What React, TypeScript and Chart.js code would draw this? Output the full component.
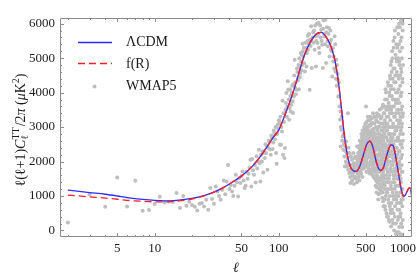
import React, { useEffect, useRef } from "react";
import { Chart, registerables } from "chart.js";
Chart.register(...registerables);

// Theory curves: multipole l and D_l = l(l+1)C_l/2pi (muK^2)
const lcdmL = [2, 3, 4, 5, 6, 8, 10, 12, 15, 20, 25, 30, 35, 40, 50, 60, 70, 80, 90, 100, 110, 120, 130, 140, 150, 160, 180, 200, 220, 240, 260, 280, 300, 320, 340, 360, 380, 400, 420, 450, 480, 510, 540, 570, 600, 630, 660, 690, 720, 760, 800, 830, 860, 890, 920, 950, 980, 1010, 1040, 1070, 1100, 1130, 1160, 1190];
const lcdmD = [1173, 1100, 1050, 1000, 955, 900, 870, 860, 875, 930, 1010, 1110, 1230, 1350, 1580, 1830, 2120, 2420, 2700, 2920, 3280, 3640, 4000, 4380, 4750, 5070, 5480, 5700, 5750, 5620, 5380, 5000, 4380, 3500, 2650, 2100, 1820, 1730, 1715, 1880, 2200, 2500, 2590, 2430, 2080, 1820, 1740, 1800, 2020, 2320, 2480, 2470, 2260, 1950, 1640, 1330, 1100, 1000, 1020, 1110, 1200, 1240, 1120, 820];
const frL = [2, 3, 4, 5, 6, 8, 10, 12, 15, 20, 25, 30, 35, 40, 50, 60, 70, 80, 90, 100, 110, 120, 130, 140, 150, 160, 180, 200, 220, 240, 260, 280, 300, 320, 340, 360, 380, 400, 420, 450, 480, 510, 540, 570, 600, 630, 660, 690, 720, 760, 800, 830, 860, 890, 920, 950, 980, 1010, 1040, 1070, 1100, 1130, 1160, 1190];
const frD = [1027, 975, 940, 905, 875, 845, 830, 828, 850, 910, 1000, 1110, 1230, 1350, 1580, 1830, 2120, 2420, 2700, 2920, 3280, 3640, 4000, 4380, 4750, 5070, 5480, 5700, 5750, 5620, 5380, 5000, 4380, 3500, 2650, 2100, 1820, 1730, 1715, 1880, 2200, 2500, 2590, 2430, 2080, 1820, 1740, 1800, 2020, 2320, 2480, 2470, 2260, 1950, 1640, 1330, 1100, 1000, 1020, 1110, 1200, 1240, 1120, 820];

// WMAP5 measurements [l, D_l]
const wmapLow = [[2,232],[3,1050],[4,685],[5,1539],[6,697],[7,1443],[8,572],[9,592],[10,766],[11,978],[12,813],[13,833],[14,824],[15,1085],[16,650],[17,998],[18,717],[19,833],[20,737],[21,688],[22,581],[23,775],[24,795],[25,697],[26,891],[27,601],[28,1231],[29,911],[30,775],[31,1277],[32,1132],[33,1000],[34,891],[35,1180],[36,1451],[37,1050],[38,1422],[39,1898],[40,1200],[41,1320],[42,1132],[43,1000],[44,1298],[45,1617],[46,1400],[47,987],[48,1521],[49,1380],[50,1580],[51,1713],[52,1450],[53,1231],[54,1298],[55,1700],[56,1500],[57,1646],[58,1820],[59,2052],[60,1277],[61,2073],[62,1750],[63,1617],[64,1900],[65,1393],[66,2150],[67,1800],[68,2000],[69,2343],[70,1950],[71,1422],[72,2200],[73,2003],[74,2300],[75,1684],[76,2247],[77,2100],[78,2500],[79,2250],[80,2459],[81,1762],[82,2400],[83,2600],[84,2584],[85,2350],[86,2198],[87,2750],[88,2682],[89,2363],[90,2550],[91,2900],[92,2827],[93,2650],[94,3000],[95,2247],[96,1936],[97,2800],[98,3068],[99,2950],[100,3200],[101,3118],[102,2488],[103,3300],[104,2488],[105,3000],[106,2874],[107,3765],[108,2198],[109,3400],[110,3150],[111,2102],[112,2392],[113,3500],[114,3698],[115,3988],[116,3300],[117,3600],[118,4326],[119,4085]];
const wmapPeak = [[120,3800],[121,3214],[122,3553],[123,4100],[124,3900],[125,3450],[126,3650],[127,4000],[128,4200],[129,3750],[130,3408],[131,4250],[132,3890],[133,4500],[134,4955],[135,4150],[136,4300],[137,3950],[139,4085],[140,4700],[141,4600],[142,4350],[143,4424],[144,4800],[145,4100],[146,5000],[147,4761],[148,4450],[149,4569],[150,5150],[151,4900],[152,4650],[153,5100],[154,4800],[155,5420],[156,5200],[157,5051],[159,5300],[160,4850],[162,4616],[163,5450],[165,5300],[167,4761],[168,5150],[170,5500],[171,5650],[172,5246],[174,5400],[175,5700],[177,4085],[178,5536],[180,5350],[182,5922],[183,5500],[184,4714],[186,5600],[188,6165],[189,5750],[190,5450],[192,5800],[194,5246],[196,5950],[197,5632],[199,4761],[200,5500],[202,6000],[204,5650],[205,5440],[207,5700],[209,6021],[210,5300],[212,5150],[215,5950],[217,5600],[219,5826],[221,5500],[223,5391],[226,4714],[227,5850],[229,6100],[231,5700],[233,5632],[235,5400],[237,6117],[240,4859],[241,5750],[243,5900],[246,5500],[248,5342],[251,5700],[253,5876],[256,5051],[258,5450],[260,5800],[262,5250],[264,5536],[267,5200],[269,4471],[272,5295],[274,4900],[276,5050],[279,4700],[281,5632],[284,5400],[286,4616],[288,4400],[290,4955],[292,4200],[294,4800],[297,4550],[299,4375],[301,3890],[304,4300],[306,3900],[308,3600],[311,3214],[313,3450],[314,2439],[316,3000],[318,2923],[321,3300],[324,2600],[327,2729],[330,2343],[332,2800],[334,2500],[337,2148],[340,1858],[342,2450],[344,2300],[346,2000],[348,2584],[351,1957],[353,2250],[355,1858],[358,2100],[360,3400],[362,1762],[364,2400],[366,1950],[369,1666],[371,2250],[373,1900],[375,1550],[377,1376],[380,2150],[382,1800],[384,1700],[387,2052],[389,1450],[391,1600],[394,1900],[396,1666],[398,2250],[400,1950],[402,1350],[404,1521],[406,2100],[408,1800],[411,1858],[413,1550],[415,2148],[417,1700],[419,1500],[421,1950],[423,1750],[425,1400],[427,2439],[429,2050],[431,1650]];
const wmapHighOdd = [[433,2000],[435,1800],[437,2439],[439,1600],[441,2150],[443,1900],[445,1450],[447,2300],[449,2050],[451,1750],[453,2600],[455,1950],[457,2200],[459,1650],[461,2450],[463,2100],[465,1850],[467,2700],[469,2250],[471,1550],[473,2350],[475,2000],[477,2800],[479,2150],[481,1800],[483,2550],[485,2300],[487,3000],[489,1900],[491,2650],[493,2400],[495,2100],[497,2850],[499,2500],
[501,2200],[503,3600],[505,2750],[507,1700],[509,2450],[511,3000],[513,2100],[515,2650],[517,1900],[519,2900],[521,2350],[523,3200],[525,2550],[527,1800],[529,2750],[531,2200],[533,3050],[535,2450],[537,1650],[539,2850],[541,2300],[543,3300],[545,2600],[547,2000],[549,2400],[551,2750],[553,1750],[555,3100],[557,2250],[559,2550],[561,1900],[563,2900],[565,2150],[567,3118],[569,2400],[571,1600],[573,2700],[575,2050],[577,2950],[579,1850],[581,2500],[583,2200],[585,3300],[587,1700],[589,2600],[591,1950],[593,2350],[595,1500],[597,2800],[599,2100],
[601,1300],[603,2450],[605,1800],[607,3200],[609,2200],[611,1100],[613,2700],[615,1600],[617,2950],[619,2050],[621,1400],[623,3310],[625,2350],[627,1750],[629,2600],[631,900],[633,2150],[635,3000],[637,1500],[639,2400],[641,1900],[643,2800],[645,1200],[647,2250],[649,3500],[651,1700],[653,2550],[655,1085],[657,2000],[659,3100],[661,1450],[663,2350],[665,1800],[667,2750],[669,1250],[671,2100],[673,3300],[675,1600],[677,2500],[679,950],[681,1950],[683,2900],[685,1350],[687,2200],[689,3650],[691,1700],[693,2600],[695,700],[697,2050],[699,3000],
[701,1500],[703,2400],[705,3400],[707,900],[709,2100],[711,2800],[713,1300],[715,3800],[717,1800],[719,2500],[721,600],[723,3100],[725,2200],[727,1600],[729,4000],[731,2700],[733,1100],[735,2000],[737,3300],[739,1400],[741,2450],[743,400],[745,2900],[747,1900],[749,3600],[751,1200],[753,2300],[755,406],[757,3000],[759,1700],[761,4200],[763,2600],[765,800],[767,2000],[769,3500],[771,1500],[773,2800],[775,250],[777,2150],[779,3900],[781,1000],[783,2500],[785,4500],[787,1800],[789,3200],[791,600],[793,2300],[795,4800],[797,1300],[799,2700],[800,116],
[802,3500],[804,1900],[806,4900],[808,800],[810,2600],[812,3900],[814,1400],[816,5200],[818,2200],[820,300],[822,3000],[824,1700],[826,4400],[828,2400],[830,1000],[832,3600],[834,2000],[836,5500],[838,500],[840,2800],[842,4100],[844,1500],[846,3300],[848,0],[850,2300],[852,4700],[854,1200],[856,3000],[858,1800],[860,5800],[862,700],[864,2600],[866,3800],[868,1300],[870,4300],[872,2100],[874,200],[876,3400],[878,1600],[880,5000],[882,900],[884,2900],[886,3700],[888,1100],[890,4600],[892,2400],[894,-50],[896,3200],[898,1500],[900,5300],
[902,600],[904,2700],[906,4000],[908,1000],[910,-75],[912,3500],[914,1900],[916,5700],[918,400],[920,2300],[922,4400],[924,1300],[926,3100],[928,6000],[930,100],[932,2000],[934,4800],[936,800],[938,3700],[940,1600],[942,5200],[944,-100],[946,2800],[948,4200],[950,1100],[952,3300],[954,5500],[956,500],[958,2100],[960,3900],[962,1400],[964,6100],[966,200],[968,2500],[970,4600],[972,900],[974,3000],[976,1700],[978,5000],[980,-150],[982,2200],[984,3600],[986,700],[988,4300],[990,1200],[992,5800],[994,300],[996,2600],[998,3400],[1000,1000]];
const wmapHighEven = [[432,1850],[434,2250],[436,1700],[438,2050],[440,1550],[442,2400],[444,2000],[446,1800],[448,2600],[450,2150],[452,1900],[454,2350],[456,1700],[458,2500],[460,2050],[462,2800],[464,2300],[466,1950],[468,2550],[470,2100],[472,2900],[474,2450],[476,1800],[478,2650],[480,2300],[482,2050],[484,2750],[486,2450],[488,2200],[490,2950],[492,1850],[494,2600],[496,2350],[498,3100],[500,2000],
[502,2500],[504,2900],[506,2050],[508,3150],[510,2300],[512,1850],[514,2800],[516,2450],[518,2150],[520,3300],[522,1950],[524,2650],[526,2300],[528,3000],[530,2450],[532,1700],[534,2700],[536,2200],[538,3200],[540,2500],[542,1900],[544,2800],[546,2350],[548,3050],[550,2100],[552,2600],[554,1650],[556,2900],[558,2350],[560,3250],[562,2000],[564,2500],[566,1800],[568,2750],[570,2200],[572,3400],[574,1900],[576,2450],[578,1550],[580,2850],[582,2100],[584,2650],[586,1950],[588,3100],[590,2300],[592,1750],[594,2700],[596,2000],[598,3300],[600,1700],
[602,2650],[604,1950],[606,3000],[608,1450],[610,2400],[612,2000],[614,3400],[616,1250],[618,2550],[620,1850],[622,2900],[624,1550],[626,2200],[628,3150],[630,1700],[632,2500],[634,1050],[636,2800],[638,2000],[640,3350],[642,1350],[644,2350],[646,1800],[648,2700],[650,1500],[652,3000],[654,2200],[656,1300],[658,2600],[660,1900],[662,3250],[664,1150],[666,2400],[668,2050],[670,2900],[672,1550],[674,3550],[676,2200],[678,1800],[680,2700],[682,1100],[684,2450],[686,3100],[688,1600],[690,2300],[692,850],[694,2800],[696,1900],[698,3400],[700,1400],
[702,2700],[704,1900],[706,3600],[708,1200],[710,2500],[712,3200],[714,700],[716,2200],[718,3000],[720,1600],[722,4100],[724,2400],[726,1000],[728,2900],[730,1800],[732,3500],[734,2300],[736,500],[738,2700],[740,1500],[742,3800],[744,2100],[746,1100],[748,3100],[750,2600],[752,1700],[754,4300],[756,2000],[758,900],[760,3300],[762,2400],[764,1400],[766,3700],[768,2800],[770,300],[772,2200],[774,4000],[776,1600],[778,3000],[780,2500],[782,700],[784,3400],[786,2000],[788,4400],[790,1200],[792,2800],[794,3600],[796,1800],[798,500],[799,4100],
[801,2300],[803,4200],[805,1200],[807,3000],[809,1700],[811,4600],[813,2500],[815,600],[817,3400],[819,1900],[821,5000],[823,2700],[825,1100],[827,3800],[829,2100],[831,200],[833,3100],[835,4700],[837,1600],[839,2500],[841,5300],[843,900],[845,3600],[847,2000],[849,4300],[851,1400],[853,2800],[855,5600],[857,400],[859,3300],[861,2200],[863,4500],[865,1000],[867,2900],[869,5100],[871,1700],[873,3700],[875,2400],[877,-100],[879,4000],[881,1900],[883,5400],[885,1300],[887,3000],[889,2100],[891,4900],[893,800],[895,3500],[897,2600],[899,5900],
[901,1800],[903,4500],[905,2200],[907,300],[909,3800],[911,1500],[913,5000],[915,2700],[917,1000],[919,4100],[921,3000],[923,-50],[925,5400],[927,1900],[929,3400],[931,2600],[933,600],[935,4900],[937,2300],[939,1300],[941,5900],[943,3200],[945,1800],[947,4500],[949,400],[951,2500],[953,3900],[955,1500],[957,6050],[959,2900],[961,800],[963,4700],[965,2100],[967,3500],[969,-120],[971,5600],[973,1900],[975,4000],[977,1200],[979,3100],[981,5300],[983,2400],[985,100],[987,4400],[989,1700],[991,3300],[993,6000],[995,900],[997,2800],[999,4800]];

const yTickValues = [0, 1000, 2000, 3000, 4000, 5000, 6000];
const xTickLabels = [5, 10, 50, 100, 500, 1000];
const legendLabels = ["\u039BCDM", "f(R)", "WMAP5"];

const X_MIN = 1.73, X_MAX = 1180, Y_MIN = -190, Y_MAX = 6165;
const SERIF = '"Liberation Serif", "Times New Roman", serif';
const BLUE = "#2b2bff";
const RED = "#ff1f1f";
const GRAY = "#bebebe";

const framePlugin = {
  id: "frameDecor",
  afterDraw(chart: any) {
    const { ctx, chartArea: a, scales } = chart;
    const xs = scales.x, ys = scales.y;
    ctx.save();
    ctx.strokeStyle = "#8a8a8a";
    ctx.lineWidth = 1;
    ctx.beginPath();
    ctx.rect(a.left + 0.5, a.top + 0.5, a.right - a.left - 1, a.bottom - a.top - 1);
    ctx.stroke();
    ctx.beginPath();
    for (let v = 0; v <= Y_MAX; v += 200) {
      const py = Math.round(ys.getPixelForValue(v)) + 0.5;
      const len = v % 1000 === 0 ? 4 : 2;
      ctx.moveTo(a.left, py); ctx.lineTo(a.left + len, py);
      ctx.moveTo(a.right, py); ctx.lineTo(a.right - len, py);
    }
    for (let k = 0; k <= 3; k++) {
      for (let m = 1; m <= 9; m++) {
        const v = m * Math.pow(10, k);
        if (v < X_MIN || v > X_MAX) continue;
        const px = Math.round(xs.getPixelForValue(v)) + 0.5;
        const len = m === 1 || m === 5 ? 4 : 2;
        ctx.moveTo(px, a.bottom); ctx.lineTo(px, a.bottom - len);
        ctx.moveTo(px, a.top); ctx.lineTo(px, a.top + len);
      }
    }
    ctx.stroke();
    ctx.fillStyle = "#1a1a1a";
    ctx.font = `13px ${SERIF}`;
    ctx.textAlign = "right";
    ctx.textBaseline = "middle";
    yTickValues.forEach((v) => {
      ctx.fillText(String(v), a.left - 5, ys.getPixelForValue(v));
    });
    ctx.textAlign = "center";
    ctx.textBaseline = "top";
    xTickLabels.forEach((v) => {
      ctx.fillText(String(v), xs.getPixelForValue(v), a.bottom + 5);
    });
    ctx.font = `italic 14px ${SERIF}`;
    ctx.textBaseline = "middle";
    ctx.fillText("\u2113", (a.left + a.right) / 2, 268);

    // y title (rotated)
    const cx = 21, cy = 130;
    ctx.translate(cx, cy);
    ctx.rotate(-Math.PI / 2);
    const base = `14px ${SERIF}`;
    const ital = `italic 14px ${SERIF}`;
    const small = `10px ${SERIF}`;
    const segs: any[] = [
      { t: "\u2113(\u2113+1)", f: base, dy: 0 },
      { t: "C", f: ital, dy: 0 },
      { sup: "TT", sub: "\u2113", f: small },
      { t: "/2", f: base, dy: 0 },
      { t: "\u03C0", f: ital, dy: 0 },
      { t: " (", f: base, dy: 0 },
      { t: "\u03BC", f: ital, dy: 0 },
      { t: "K", f: base, dy: 0 },
      { t: "2", f: small, dy: -6 },
      { t: ")", f: base, dy: 0 },
    ];
    let total = 0;
    const widths = segs.map((s) => {
      ctx.font = s.f;
      let w;
      if (s.sup !== undefined) {
        w = Math.max(ctx.measureText(s.sup).width, ctx.measureText(s.sub).width) + 1;
      } else w = ctx.measureText(s.t).width;
      total += w;
      return w;
    });
    let xpos = -total / 2;
    ctx.textAlign = "left";
    ctx.textBaseline = "alphabetic";
    segs.forEach((s, i) => {
      ctx.font = s.f;
      if (s.sup !== undefined) {
        ctx.fillText(s.sup, xpos, 4 - 6);
        ctx.fillText(s.sub, xpos, 4 + 3);
      } else {
        ctx.fillText(s.t, xpos, 4 + s.dy);
      }
      xpos += widths[i];
    });
    ctx.restore();

    // legend
    ctx.save();
    ctx.lineWidth = 1.3;
    ctx.strokeStyle = BLUE;
    ctx.beginPath(); ctx.moveTo(78, 42.5); ctx.lineTo(112, 42.5); ctx.stroke();
    ctx.strokeStyle = RED;
    ctx.setLineDash([7, 4]);
    ctx.beginPath(); ctx.moveTo(78, 63.5); ctx.lineTo(112, 63.5); ctx.stroke();
    ctx.setLineDash([]);
    ctx.fillStyle = GRAY;
    ctx.beginPath(); ctx.arc(94.5, 86.5, 2, 0, Math.PI * 2); ctx.fill();
    ctx.fillStyle = "#1a1a1a";
    ctx.font = `14px ${SERIF}`;
    ctx.textAlign = "left";
    ctx.textBaseline = "middle";
    ctx.fillText(legendLabels[0], 126, 42.5);
    ctx.fillText(legendLabels[1], 126, 64);
    ctx.fillText(legendLabels[2], 126, 86.5);
    ctx.restore();
  },
};

export default function App() {
  const ref = useRef<HTMLCanvasElement | null>(null);
  useEffect(() => {
    if (!ref.current) return;
    const wmap = [...wmapLow, ...wmapPeak, ...wmapHighOdd, ...wmapHighEven];
    const chart = new Chart(ref.current, {
      type: "scatter",
      data: {
        datasets: [
          {
            label: legendLabels[1],
            data: frL.map((l, i) => ({ x: l, y: frD[i] })),
            showLine: true,
            borderColor: RED,
            borderWidth: 1.3,
            borderDash: [7, 4],
            pointRadius: 0,
            cubicInterpolationMode: "monotone",
            order: 0,
          } as any,
          {
            label: legendLabels[0],
            data: lcdmL.map((l, i) => ({ x: l, y: lcdmD[i] })),
            showLine: true,
            borderColor: BLUE,
            borderWidth: 1.3,
            pointRadius: 0,
            cubicInterpolationMode: "monotone",
            order: 1,
          } as any,
          {
            label: legendLabels[2],
            data: wmap.map((p) => ({ x: p[0], y: p[1] })),
            showLine: false,
            pointRadius: 2,
            pointBorderWidth: 0,
            pointBackgroundColor: GRAY,
            pointBorderColor: GRAY,
            order: 2,
          } as any,
        ],
      },
      options: {
        responsive: false,
        animation: false,
        devicePixelRatio: 1,
        events: [],
        layout: { padding: { left: 60, top: 18, right: 5, bottom: 41 } },
        scales: {
          x: { type: "logarithmic", min: X_MIN, max: X_MAX, display: false },
          y: { type: "linear", min: Y_MIN, max: Y_MAX, display: false },
        },
        plugins: { legend: { display: false }, tooltip: { enabled: false } },
      },
      plugins: [framePlugin],
    });
    return () => chart.destroy();
  }, []);
  return (
    <div style={{ position: "fixed", left: 0, top: 0, width: 417, height: 278, background: "#fff" }}>
      <canvas ref={ref} width={417} height={278} style={{ display: "block" }} />
    </div>
  );
}
